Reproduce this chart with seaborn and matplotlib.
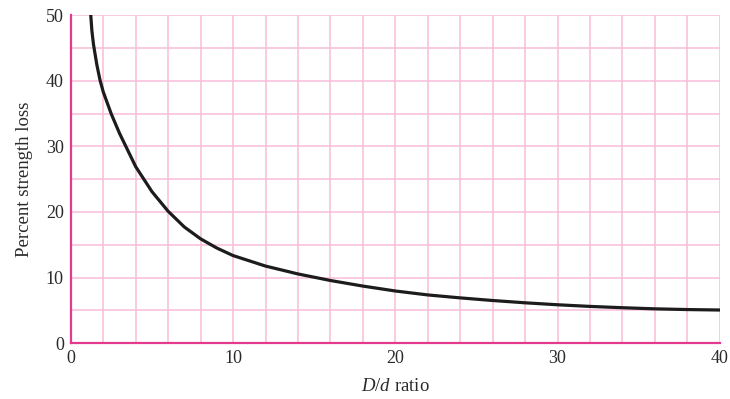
import numpy as np
import pandas as pd
import matplotlib
matplotlib.use("Agg")
import matplotlib.pyplot as plt
import seaborn as sns

# values
dd_ratio = [1.23, 1.3, 1.4, 1.6, 1.8, 2.0, 2.5, 3.0, 4.0, 5.0, 6.0, 7.0, 8.0, 9.0,
            10.0, 12.0, 14.0, 16.0, 18.0, 20.0, 22.0, 24.0, 26.0, 28.0, 30.0, 32.0,
            34.0, 36.0, 38.0, 40.0]
strength_loss = [50.0, 47.6, 45.5, 42.5, 40.1, 38.3, 34.9, 32.0, 26.9, 23.1, 20.1, 17.7,
                 15.9, 14.5, 13.35, 11.75, 10.55, 9.55, 8.7, 7.95, 7.35, 6.9, 6.5, 6.15,
                 5.85, 5.6, 5.4, 5.23, 5.12, 5.05]

x_ticks = [0, 10, 20, 30, 40]
y_ticks = [0, 10, 20, 30, 40, 50]

df = pd.DataFrame({"ratio": dd_ratio, "loss": strength_loss})

sns.set_theme(style="white")
plt.rcParams["font.family"] = ["Liberation Serif", "DejaVu Serif"]
plt.rcParams["mathtext.fontset"] = "custom"
plt.rcParams["mathtext.it"] = "Liberation Serif:italic"
plt.rcParams["mathtext.rm"] = "Liberation Serif"

GRID = "#f8bdd9"
AXIS = "#e3398f"

fig = plt.figure(figsize=(7.30, 3.99), dpi=100)
ax = fig.add_axes([0.097, 0.140, 0.889, 0.822])

# grid every 2 in x, every 5 in y
for gx in np.arange(2, 41, 2):
    ax.axvline(gx, color=GRID, lw=1.1, zorder=1)
for gy in np.arange(5, 51, 5):
    ax.axhline(gy, color=GRID, lw=1.1, zorder=1)

sns.lineplot(data=df, x="ratio", y="loss", ax=ax, color="#1c1c1c", lw=2.3, zorder=3)

ax.set_xlim(0, 40)
ax.set_ylim(0, 50)
ax.set_xticks(x_ticks)
ax.set_yticks(y_ticks)
ax.tick_params(length=0, labelsize=13, labelcolor="#2a2a2a", pad=5)

for side in ["top", "right"]:
    ax.spines[side].set_visible(False)
for side in ["left", "bottom"]:
    ax.spines[side].set_color(AXIS)
    ax.spines[side].set_linewidth(1.6)
    ax.spines[side].set_zorder(4)

ax.set_xlabel(r"$\mathit{D/d}$ ratio", fontsize=13.5, color="#2a2a2a", labelpad=8)
ax.set_ylabel("Percent strength loss", fontsize=13.5, color="#2a2a2a", labelpad=9)

fig.savefig("out.png", dpi=100)
